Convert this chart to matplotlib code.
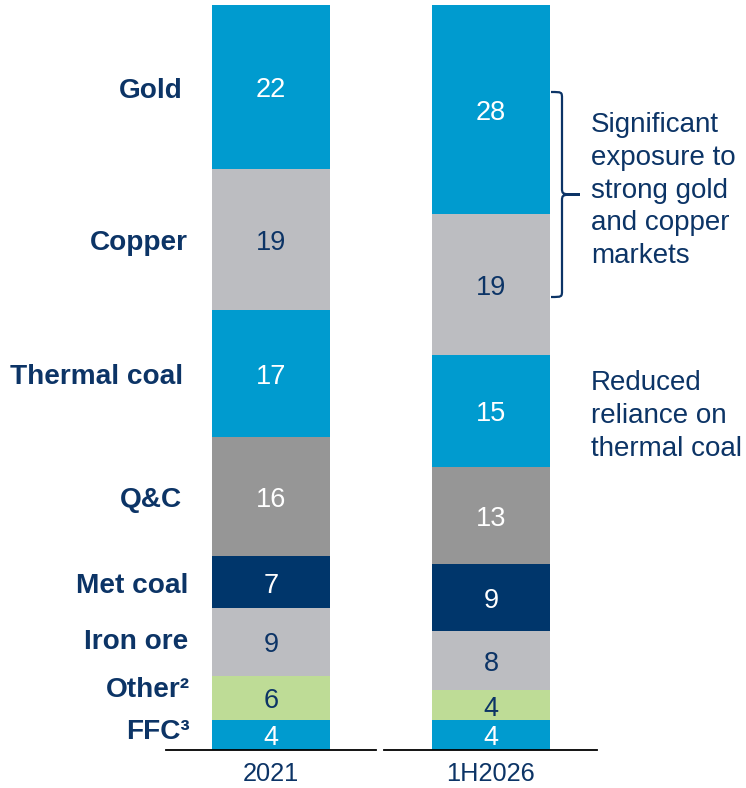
import matplotlib.pyplot as plt
from matplotlib.path import Path
from matplotlib.patches import PathPatch
import numpy as np

plt.rcParams['font.family'] = ['Liberation Sans', 'DejaVu Sans']

# commodity mix, % of revenue, listed bottom to top
commodities = ["FFC³", "Other²", "Iron ore", "Met coal", "Q&C", "Thermal coal", "Copper", "Gold"]
periods = ["2021", "1H2026"]
share_2021 = [4, 6, 9, 7, 16, 17, 19, 22]
share_1h2026 = [4, 4, 8, 9, 13, 15, 19, 28]

blue = "#009bcf"
light_grey = "#bcbdc1"
dark_grey = "#969696"
navy = "#00366b"
green = "#bedc96"
text_navy = "#0c3466"

colors = [blue, green, light_grey, navy, dark_grey, blue, light_grey, blue]
value_colors = ["white", text_navy, text_navy, "white", "white", "white", text_navy, "white"]

W, H = 746, 788
fig = plt.figure(figsize=(W / 100, H / 100), dpi=100)
# y: 0 at pixel 750, 100 at pixel 5 ; x: bar centres at pixels 271 and 491
px_per_unit = 7.45
ax = fig.add_axes([0, (H - 750) / H, 1, 100 * px_per_unit / H])
xscale = 220.0
ax.set_xlim(-271 / xscale, (W - 271) / xscale)
ax.set_ylim(0, 100)
ax.axis("off")

def px(x):
    return (x - 271) / xscale

def py(y):
    return (750 - y) / px_per_unit

bar_w = 118 / xscale
for i, shares in enumerate([share_2021, share_1h2026]):
    bottoms = np.concatenate([[0], np.cumsum(shares)[:-1]])
    ax.bar(i, shares, bottom=bottoms, width=bar_w, color=colors, linewidth=0)
    for v, b, c in zip(shares, bottoms, value_colors):
        ax.text(i, b + v / 2 - 0.45, str(v), ha="center", va="center",
                fontsize=19.5, color=c)

# category labels beside the 2021 bar
bottoms = np.concatenate([[0], np.cumsum(share_2021)[:-1]])
label_shift = [0.4, 1.0, 0.0, -0.5, -0.5, -0.5, -0.5, -0.5]
label_right = [190, 190, 188, 188, 182, 183, 188, 183]
for name, v, b, s, r in zip(commodities, share_2021, bottoms, label_shift, label_right):
    ax.text(px(r), b + v / 2 + s, name, ha="right", va="center",
            fontsize=20.2, fontweight="bold", color=text_navy)

# baselines under each bar
ax.plot([px(166), px(376)], [0, 0], color="black", lw=1.3, clip_on=False)
ax.plot([px(384), px(597)], [0, 0], color="black", lw=1.3, clip_on=False)
for i, p in enumerate(periods):
    ax.text(i, py(774), p, ha="center", va="center", fontsize=18.3,
            color=text_navy, clip_on=False)

# brace around gold and copper in 1H2026
top, bot = py(92), py(297)
mid = (top + bot) / 2
xb, xl, xt = px(562), px(551), px(580)
d = 0.9
verts = [(xl, top), (xb, top), (xb, top), (xb, top - d),
         (xb, mid + d),
         (xb, mid), (xb, mid), (xt, mid),
         (xb, mid), (xb, mid), (xb, mid - d),
         (xb, bot + d),
         (xb, bot), (xb, bot), (xl, bot)]
codes = [Path.MOVETO, Path.CURVE4, Path.CURVE4, Path.CURVE4,
         Path.LINETO,
         Path.CURVE4, Path.CURVE4, Path.CURVE4,
         Path.CURVE4, Path.CURVE4, Path.CURVE4,
         Path.LINETO,
         Path.CURVE4, Path.CURVE4, Path.CURVE4]
ax.add_patch(PathPatch(Path(verts, codes), fill=False, edgecolor=text_navy, lw=1.6))

ax.text(px(591), py(112),
        "Significant\nexposure to\nstrong gold\nand copper\nmarkets",
        ha="left", va="top", fontsize=20, color=text_navy, linespacing=1.34)
ax.text(px(591), py(370),
        "Reduced\nreliance on\nthermal coal",
        ha="left", va="top", fontsize=20, color=text_navy, linespacing=1.34)

fig.savefig("out.png", dpi=100)
